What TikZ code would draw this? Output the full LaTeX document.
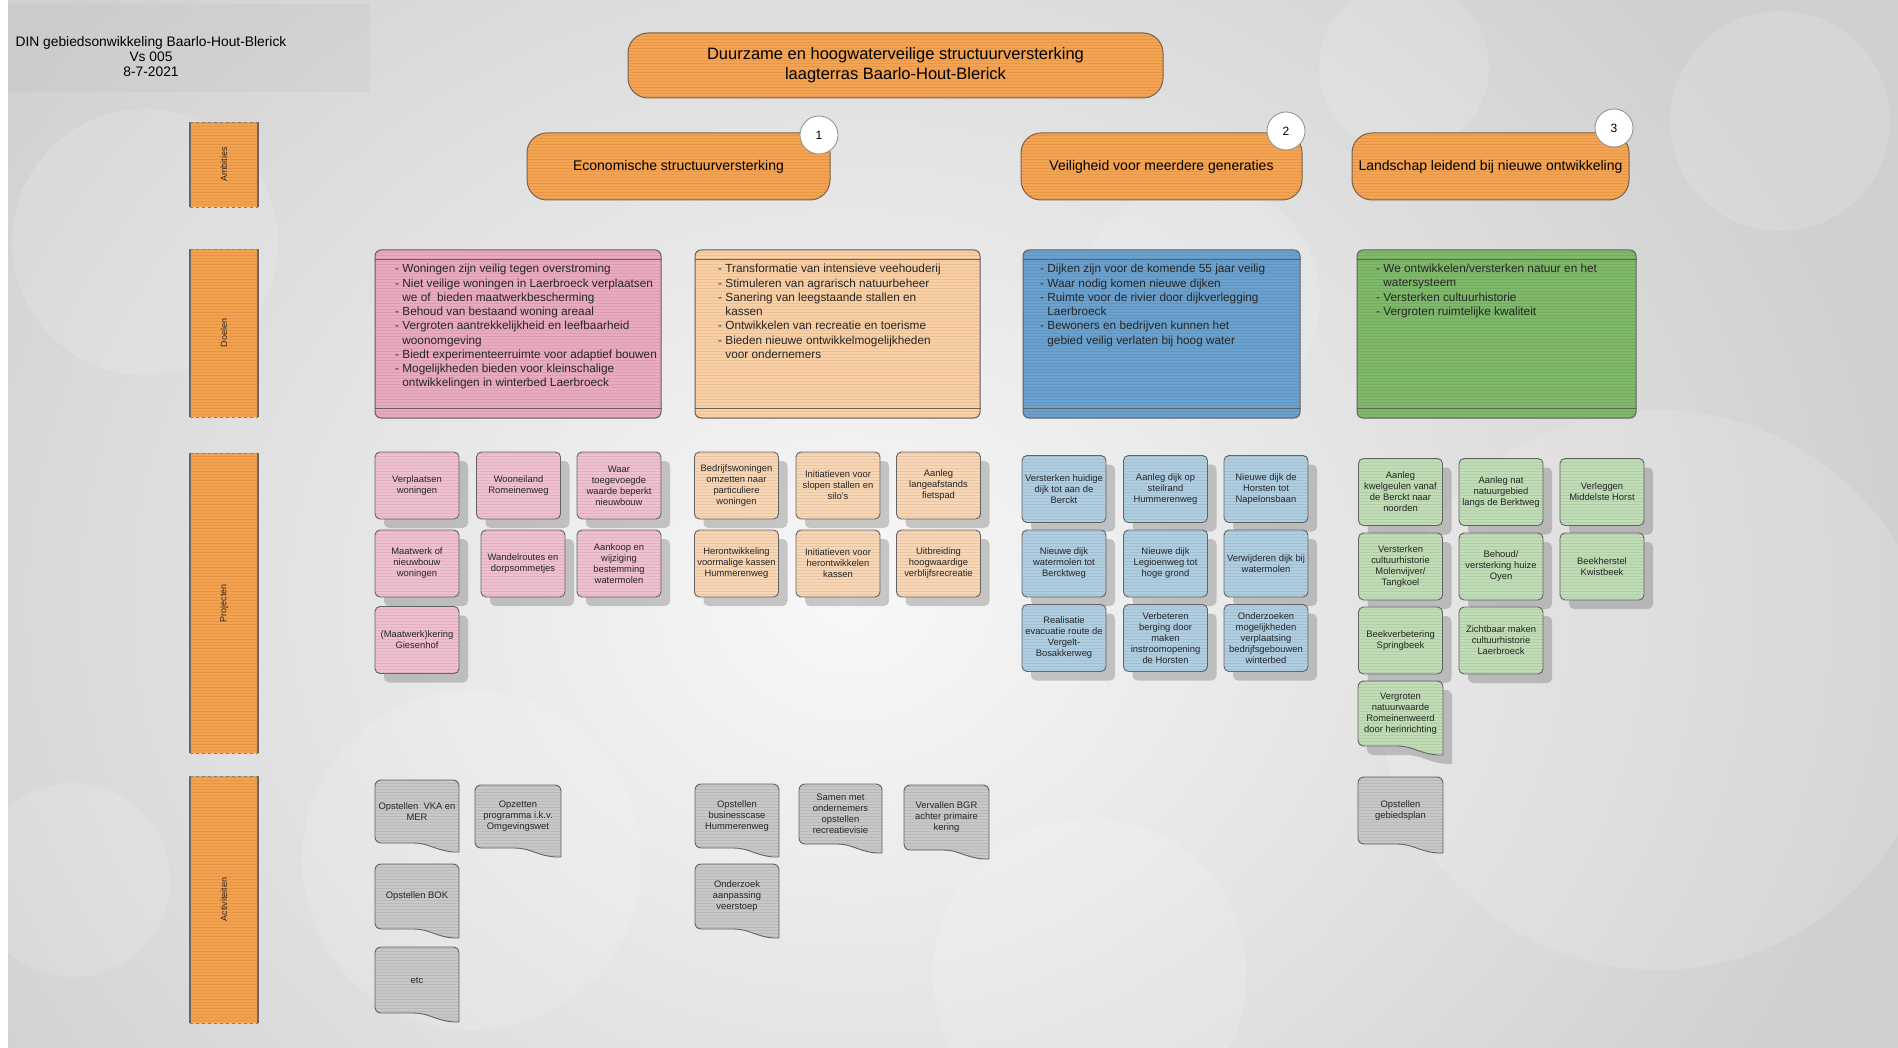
\documentclass[tikz,border=0pt]{standalone}
\usepackage{fontspec}
\setmainfont{Liberation Sans}
\usetikzlibrary{patterns,shadows}
\definecolor{ambOr}{RGB}{246,164,82}
\definecolor{ambEdge}{RGB}{120,98,76}
\definecolor{laneOr}{RGB}{245,162,78}
\definecolor{gPink}{RGB}{234,170,192}
\definecolor{gOr}{RGB}{250,208,164}
\definecolor{gBlue}{RGB}{106,161,206}
\definecolor{gGreen}{RGB}{126,186,106}
\definecolor{pPink}{RGB}{240,192,207}
\definecolor{pOr}{RGB}{249,214,180}
\definecolor{pBlue}{RGB}{176,206,226}
\definecolor{pGreen}{RGB}{192,221,182}
\definecolor{aGray}{RGB}{200,200,200}
\definecolor{edgeG}{RGB}{100,100,100}
\definecolor{bgOut}{RGB}{208,208,208}
\definecolor{bgIn}{RGB}{248,248,248}
\tikzset{
 stripes/.style={postaction={pattern=horizontal lines, pattern color=black, opacity=0.07}},
 shd/.style={drop shadow={shadow xshift=9pt, shadow yshift=-9pt, opacity=0.28, fill=black!70}},
 ambbox/.style={rectangle, rounded corners=20pt, fill=ambOr, draw=ambEdge, line width=1pt, stripes, align=center, inner sep=2pt},
 badge/.style={circle, minimum size=38pt, inner sep=0pt, fill=white, draw=black!45, line width=0.8pt, font=\fontsize{12}{14}\selectfont},
 goalbox/.style={rectangle, rounded corners=6pt, draw=black!62, line width=1pt, stripes, inner sep=0pt},
 goalline/.style={draw=black!62, line width=1pt},
 goaltext/.style={anchor=north west, inner sep=0pt, align=left, text=black!85, font=\fontsize{11.8}{14.25}\selectfont},
 pbox/.style={rectangle, rounded corners=5pt, draw=edgeG, line width=0.9pt, minimum width=84pt, minimum height=67pt, inner sep=1pt, align=center, text=black!85, font=\fontsize{9.4}{11}\selectfont, shd, stripes},
 docshape/.style={draw=edgeG, line width=0.9pt, stripes},
 boxtext/.style={align=center, inner sep=0pt, text=black!85, font=\fontsize{9.4}{11}\selectfont},
 laneside/.style={draw=black!60, line width=1.5pt},
 lanedash/.style={draw=black!50, line width=0.6pt, dashed},
 lanetext/.style={rotate=90, inner sep=0pt, text=black!85, font=\fontsize{9}{10}\selectfont},
}
\newcommand\mklane[4]{%
 \path[fill=laneOr, stripes] (190,#2) rectangle (258,#3);
 \draw[laneside] (190,#2) -- (190,#3) (258,#2) -- (258,#3);
 \draw[lanedash] (190,#2) -- (258,#2) (190,#3) -- (258,#3);
 \node[lanetext] (#1) at (224,{(#2+#3)/2}) {#4};}
\newcommand\docbox[8]{%
 \path[docshape, fill=#6, #7] ({#2},{(#3+#5)/2}) [rounded corners=6pt] -- ({#2},{#3}) -- ({#4},{#3}) -- ({#4},{#5-6}) [sharp corners] .. controls ({#4},{#5}) .. ({#4-6},{#5}) .. controls ({#4-0.3*(#4-#2)},{#5-2}) and ({#2+0.65*(#4-#2)},{#5-9}) .. ({#2+0.45*(#4-#2)},{#5-9}) [rounded corners=6pt] -- ({#2},{#5-9}) -- cycle;
 \node[boxtext] (#1) at ({(#2+#4)/2},{(#3+#5-9)/2}) {#8};}
\begin{document}
\begin{tikzpicture}[x=1pt,y=-1pt]
\useasboundingbox (0,0) rectangle (1898,1048);
% background
\fill[bgOut] (0,0) rectangle (1898,1048);
\shade[inner color=bgIn, outer color=bgOut] (-200,-300) rectangle (1900,1500);
\begin{scope}[fill=white, opacity=0.14]
 \fill (1780,121) circle (110);
 \fill (1404,67) circle (85);
 \fill (1658,690) circle (280);
 \fill (145,242) circle (133);
 \fill (472,860) circle (170);
 \fill (1090,975) circle (157);
 \fill (73,880) circle (97);
 \fill (1200,300) circle (120);
\end{scope}
\fill[black, opacity=0.025] (8,4) rectangle (370,92);
\fill[white] (0,0) rectangle (8,1048);
% header
\node[align=center, inner sep=0pt, font=\fontsize{13.8}{15}\selectfont] (hdr) at (151,57) {DIN gebiedsonwikkeling Baarlo-Hout-Blerick\\Vs 005\\8-7-2021};
% lanes
\mklane{lA}{122}{207}{Ambities}
\mklane{lD}{249}{417}{Doelen}
\mklane{lP}{453}{753}{Projecten}
\mklane{lAc}{776}{1023}{Activiteiten}
% title and ambitions
\node[ambbox, minimum width=535pt, minimum height=65pt, font=\fontsize{16.5}{20}\selectfont] (title) at (895.5,65.5) {Duurzame en hoogwaterveilige structuurversterking\\laagterras Baarlo-Hout-Blerick};
\node[ambbox, minimum width=303pt, minimum height=67pt, font=\fontsize{14}{17}\selectfont] (amb1) at (678.5,166.5) {Economische structuurversterking};
\node[ambbox, minimum width=281pt, minimum height=67pt, font=\fontsize{14}{17}\selectfont] (amb2) at (1161.5,166.5) {Veiligheid voor meerdere generaties};
\node[ambbox, minimum width=277pt, minimum height=67pt, font=\fontsize{14}{17}\selectfont] (amb3) at (1490.5,166.5) {Landschap leidend bij nieuwe ontwikkeling};
\node[badge] (n1) at (819,135) {1};
\node[badge] (n2) at (1286,131) {2};
\node[badge] (n3) at (1614,128) {3};
% goals
\node[goalbox, fill=gPink, minimum width=286pt, minimum height=168pt] (g1) at (518,334) {};
\node[goalbox, fill=gOr, minimum width=285pt, minimum height=168pt] (g2) at (837.5,334) {};
\node[goalbox, fill=gBlue, minimum width=277pt, minimum height=168pt] (g3) at (1161.5,334) {};
\node[goalbox, fill=gGreen, minimum width=279pt, minimum height=168pt] (g4) at (1496.5,334) {};
\foreach \g in {g1,g2,g3,g4}{
 \draw[goalline] ([yshift=-10pt]\g.north west) -- ([yshift=-10pt]\g.north east);
 \draw[goalline] ([yshift=10pt]\g.south west) -- ([yshift=10pt]\g.south east);
}
\node[goaltext] (gt1) at (395,264) {- Woningen zijn veilig tegen overstroming\\- Niet veilige woningen in Laerbroeck verplaatsen\\\phantom{- }we of~ bieden maatwerkbescherming\\- Behoud van bestaand woning areaal\\- Vergroten aantrekkelijkheid en leefbaarheid\\\phantom{- }woonomgeving\\- Biedt experimenteerruimte voor adaptief bouwen\\- Mogelijkheden bieden voor kleinschalige\\\phantom{- }ontwikkelingen in winterbed Laerbroeck};
\node[goaltext] (gt2) at (718,264) {- Transformatie van intensieve veehouderij\\- Stimuleren van agrarisch natuurbeheer\\- Sanering van leegstaande stallen en\\\phantom{- }kassen\\- Ontwikkelen van recreatie en toerisme\\- Bieden nieuwe ontwikkelmogelijkheden\\\phantom{- }voor ondernemers};
\node[goaltext] (gt3) at (1040,264) {- Dijken zijn voor de komende 55 jaar veilig\\- Waar nodig komen nieuwe dijken\\- Ruimte voor de rivier door dijkverlegging\\\phantom{- }Laerbroeck\\- Bewoners en bedrijven kunnen het\\\phantom{- }gebied veilig verlaten bij hoog water};
\node[goaltext] (gt4) at (1376,264) {- We ontwikkelen/versterken natuur en het\\\phantom{- }watersysteem\\- Versterken cultuurhistorie\\- Vergroten ruimtelijke kwaliteit};
% projects pink
\node[pbox, fill=pPink] (pp1) at (417,485.5) {Verplaatsen\\woningen};
\node[pbox, fill=pPink] (pp2) at (518.5,485.5) {Wooneiland\\Romeinenweg};
\node[pbox, fill=pPink] (pp3) at (619,485.5) {Waar\\toegevoegde\\waarde beperkt\\nieuwbouw};
\node[pbox, fill=pPink] (pp4) at (417,563.5) {Maatwerk of\\nieuwbouw\\woningen};
\node[pbox, fill=pPink] (pp5) at (523,563.5) {Wandelroutes en\\dorpsommetjes};
\node[pbox, fill=pPink] (pp6) at (619,563.5) {Aankoop en\\wijziging\\bestemming\\watermolen};
\node[pbox, fill=pPink] (pp7) at (417,640) {(Maatwerk)kering\\Giesenhof};
% projects orange
\node[pbox, fill=pOr] (po1) at (736.5,485.5) {Bedrijfswoningen\\omzetten naar\\particuliere\\woningen};
\node[pbox, fill=pOr] (po2) at (838,485.5) {Initiatieven voor\\slopen stallen en\\silo's};
\node[pbox, fill=pOr] (po3) at (938.5,485.5) {Aanleg\\langeafstands\\fietspad};
\node[pbox, fill=pOr] (po4) at (736.5,563.5) {Herontwikkeling\\voormalige kassen\\Hummerenweg};
\node[pbox, fill=pOr] (po5) at (838,563.5) {Initiatieven voor\\herontwikkelen\\kassen};
\node[pbox, fill=pOr] (po6) at (938.5,563.5) {Uitbreiding\\hoogwaardige\\verblijfsrecreatie};
% projects blue
\node[pbox, fill=pBlue] (pb1) at (1064,489) {Versterken huidige\\dijk tot aan de\\Berckt};
\node[pbox, fill=pBlue] (pb2) at (1165.5,489) {Aanleg dijk op\\steilrand\\Hummerenweg};
\node[pbox, fill=pBlue] (pb3) at (1266,489) {Nieuwe dijk de\\Horsten tot\\Napelonsbaan};
\node[pbox, fill=pBlue] (pb4) at (1064,563.5) {Nieuwe dijk\\watermolen tot\\Bercktweg};
\node[pbox, fill=pBlue] (pb5) at (1165.5,563.5) {Nieuwe dijk\\Legioenweg tot\\hoge grond};
\node[pbox, fill=pBlue] (pb6) at (1266,563.5) {Verwijderen dijk bij\\watermolen};
\node[pbox, fill=pBlue] (pb7) at (1064,638) {Realisatie\\evacuatie route de\\Vergelt-\\Bosakkerweg};
\node[pbox, fill=pBlue] (pb8) at (1165.5,638) {Verbeteren\\berging door\\maken\\instroomopening\\de Horsten};
\node[pbox, fill=pBlue] (pb9) at (1266,638) {Onderzoeken\\mogelijkheden\\verplaatsing\\bedrijfsgebouwen\\winterbed};
% projects green
\node[pbox, fill=pGreen] (pg1) at (1400.5,492) {Aanleg\\kwelgeulen vanaf\\de Berckt naar\\noorden};
\node[pbox, fill=pGreen] (pg2) at (1501,492) {Aanleg nat\\natuurgebied\\langs de Berktweg};
\node[pbox, fill=pGreen] (pg3) at (1602,492) {Verleggen\\Middelste Horst};
\node[pbox, fill=pGreen] (pg4) at (1400.5,566.5) {Versterken\\cultuurhistorie\\Molenvijver/\\Tangkoel};
\node[pbox, fill=pGreen] (pg5) at (1501,566.5) {Behoud/\\versterking huize\\Oyen};
\node[pbox, fill=pGreen] (pg6) at (1602,566.5) {Beekherstel\\Kwistbeek};
\node[pbox, fill=pGreen] (pg7) at (1400.5,640.5) {Beekverbetering\\Springbeek};
\node[pbox, fill=pGreen] (pg8) at (1501,640.5) {Zichtbaar maken\\cultuurhistorie\\Laerbroeck};
\docbox{pg9}{1358}{681}{1443}{755}{pGreen}{shd}{Vergroten\\natuurwaarde\\Romeinenweerd\\door herinrichting}
% activities
\docbox{a1}{375}{780}{459}{852}{aGray}{}{Opstellen~ VKA en\\MER}
\docbox{a2}{475}{785}{561}{857}{aGray}{}{Opzetten\\programma i.k.v.\\Omgevingswet}
\docbox{a3}{375}{864}{459}{938}{aGray}{}{Opstellen BOK}
\docbox{a4}{375}{947}{459}{1022}{aGray}{}{etc}
\docbox{a5}{695}{784}{779}{857}{aGray}{}{Opstellen\\businesscase\\Hummerenweg}
\docbox{a6}{799}{784}{882}{853}{aGray}{}{Samen met\\ondernemers\\opstellen\\recreatievisie}
\docbox{a7}{904}{785}{989}{859}{aGray}{}{Vervallen BGR\\achter primaire\\kering}
\docbox{a8}{695}{864}{779}{938}{aGray}{}{Onderzoek\\aanpassing\\veerstoep}
\docbox{a9}{1358}{777}{1443}{853}{aGray}{}{Opstellen\\gebiedsplan}
\end{tikzpicture}
\end{document}
